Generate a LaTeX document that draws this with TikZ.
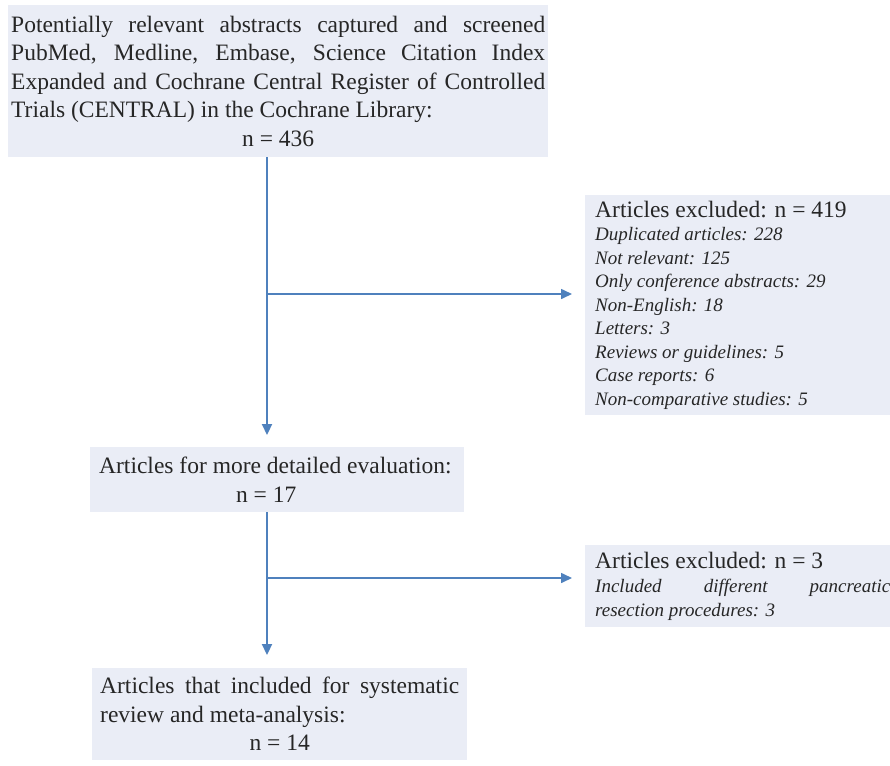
\documentclass[tikz,border=0pt]{standalone}
\usepackage{fontspec}
\setmainfont{Liberation Serif}
\usetikzlibrary{positioning,arrows.meta}
\hyphenpenalty=10000
\exhyphenpenalty=10000

\definecolor{boxfill}{HTML}{EAEDF6}
\definecolor{flowblue}{HTML}{4F81BD}
\definecolor{inktext}{HTML}{262626}

\tikzset{
  stagebox/.style={fill=boxfill, anchor=north west, align=justify, text=inktext,
    inner ysep=2pt, font=\fontsize{23.5}{28.5}\selectfont},
  exclbox/.style={fill=boxfill, anchor=north west, align=justify, text=inktext,
    inner xsep=10pt, inner ysep=2pt, font=\fontsize{23.5}{26}\selectfont},
  flow/.style={draw=flowblue, line width=2.2pt, -{Triangle[length=11pt,width=10pt]}},
  branch/.style={draw=flowblue, line width=1.6pt, -{Triangle[length=11pt,width=10pt]}}
}

\begin{document}
\begin{tikzpicture}[x=1pt,y=-1pt]
		\useasboundingbox (0,0) rectangle (890,765);
		
		% Stages
		\node[stagebox, inner xsep=3pt, text width=534pt, minimum width=540pt, minimum height=152pt] (search) at (8,5)
		{Potentially relevant abstracts captured and screened PubMed, Medline, Embase, Science Citation Index Expanded and Cochrane Central Register of Controlled Trials (CENTRAL) in the Cochrane Library:\par\centerline{n = 436}};
		\node[stagebox, inner xsep=9pt, text width=356pt, minimum width=374pt, minimum height=65pt] (evaluated) at (90,447)
		{Articles for more detailed evaluation:\par\centerline{\hspace*{-22pt}n = 17}};
		\node[stagebox, inner xsep=8pt, text width=359pt, minimum width=375pt, minimum height=92pt] (included) at (92,668)
		{Articles that included for systematic review and meta-analysis:\par\centerline{n = 14}};
		
		% Exclusions
		\node[exclbox, text width=296pt, minimum width=316pt, minimum height=220pt] (excluded1) at (585,195)
		{Articles excluded: n = 419\par
		{\itshape\fontsize{19}{23.5}\selectfont Duplicated articles: 228\par Not relevant: 125\par Only conference abstracts: 29\par Non-English: 18\par Letters: 3\par Reviews or guidelines: 5\par Case reports: 6\par Non-comparative studies: 5\par}};
		\node[exclbox, text width=295pt, minimum width=315pt, minimum height=82pt] (excluded2) at (585,545)
		{Articles excluded: n = 3\par
		{\itshape\fontsize{19}{24}\selectfont Included different pancreatic\linebreak resection procedures: 3\par}};
		
		% Branch points
		\coordinate (split1) at (267,294);
		\coordinate (split2) at (267,578);
		
		% Arrows
		\draw[flow, shorten >=12pt] (split1 |- search.south) -- (split1 |- evaluated.north);
		\draw[flow, shorten >=13pt] (split2 |- evaluated.south) -- (split2 |- included.north);
		\draw[branch, shorten >=13pt] (split1) -- (split1 -| excluded1.west);
		\draw[branch, shorten >=13pt] (split2) -- (split2 -| excluded2.west);
		
		\end{tikzpicture}
\end{document}
